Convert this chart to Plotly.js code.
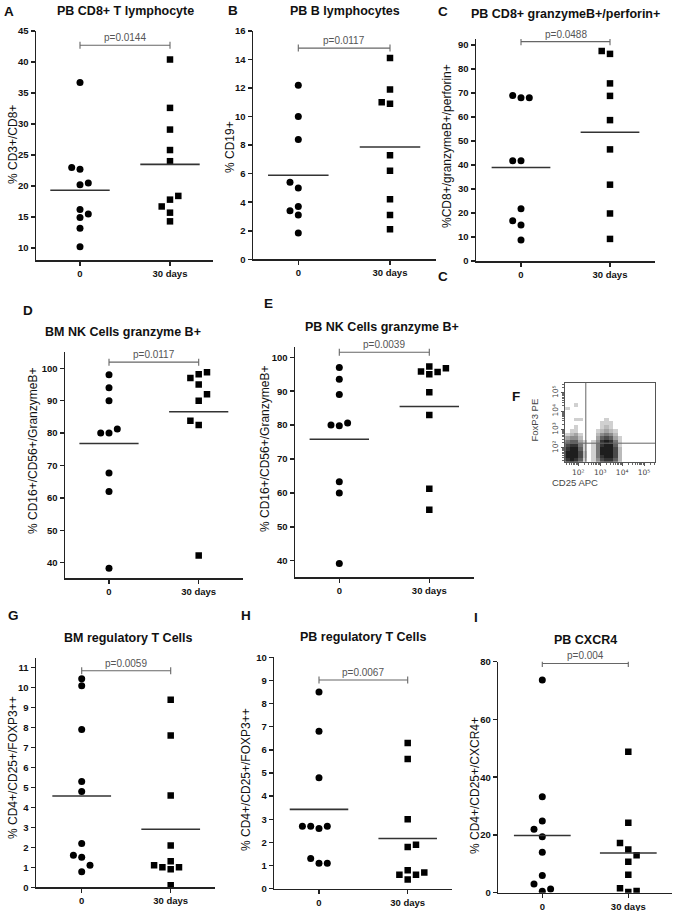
<!DOCTYPE html>
<html><head><meta charset="utf-8">
<script src="https://cdn.plot.ly/plotly-3.0.1.min.js"></script>
<style>html,body{margin:0;padding:0;background:#fff}#chart{width:674px;height:911px}</style>
</head><body><div id="chart"></div>
<script>
const groupLabels = ['0', '30 days'];

// A: PB CD8+ T lymphocyte
const aDay0  = [36.7, 23.0, 22.7, 20.2, 20.5, 16.2, 15.5, 14.9, 13.2, 10.2];
const aDay30 = [40.4, 32.6, 29.1, 25.8, 24.0, 18.4, 17.8, 16.7, 15.7, 14.3];
// B: PB B lymphocytes
const bDay0  = [12.2, 10.0, 8.4, 5.4, 5.0, 3.7, 3.4, 3.1, 1.85];
const bDay30 = [14.1, 11.9, 11.0, 10.9, 7.3, 6.2, 4.2, 3.1, 2.1];
// C: PB CD8+ granzymeB+/perforin+
const cDay0  = [69.0, 68.0, 68.0, 41.8, 41.8, 21.8, 16.8, 15.0, 8.7];
const cDay30 = [87.5, 86.3, 74.0, 68.8, 58.7, 46.5, 31.8, 19.8, 9.2];
// D: BM NK Cells granzyme B+
const dDay0  = [98.0, 94.0, 90.0, 80.0, 80.0, 81.3, 67.7, 62.0, 38.3];
const dDay30 = [98.8, 98.2, 97.0, 95.0, 92.0, 90.0, 83.8, 82.5, 42.2];
// E: PB NK Cells granzyme B+
const eDay0  = [97.0, 93.5, 89.0, 80.0, 79.8, 80.6, 63.3, 60.0, 39.2];
const eDay30 = [95.8, 97.3, 95.0, 95.7, 96.8, 89.7, 83.0, 61.2, 55.0];
// G: BM regulatory T Cells
const gDay0  = [10.45, 10.1, 7.9, 5.3, 4.8, 2.2, 1.6, 1.5, 1.1, 0.78];
const gDay30 = [9.4, 7.6, 4.6, 2.1, 1.3, 1.1, 1.0, 0.9, 1.0, 0.1];
// H: PB regulatory T Cells
const hDay0  = [8.5, 6.8, 4.8, 2.7, 2.7, 2.6, 2.7, 1.3, 1.1, 1.1];
const hDay30 = [6.3, 5.6, 3.0, 1.8, 1.9, 0.8, 0.6, 0.6, 0.7, 0.4];
// I: PB CXCR4
const iDay0  = [73.7, 33.2, 24.8, 22.0, 19.4, 14.0, 6.0, 3.0, 0.5, 1.3];
const iDay30 = [48.8, 24.2, 17.2, 15.0, 13.0, 10.7, 6.2, 1.5, 0.2, 0.6];

const pValues = ['p=0.0144', 'p=0.0117', 'p=0.0488', 'p=0.0117', 'p=0.0039', 'p=0.0059', 'p=0.0067', 'p=0.004'];

// F: flow cytometry density (log10 units), rows bottom->top
const fBinX = [1.5, 1.7, 1.9, 2.1, 2.3, 2.5, 2.7, 2.9, 3.1, 3.3, 3.5, 3.7, 3.9, 4.1];
const fBinY = [1.35, 1.55, 1.75, 1.95, 2.15, 2.35, 2.55, 2.75, 2.95, 3.15, 3.35, 3.55, 3.75, 3.95, 4.15, 4.35];
const fDensity = [
  [8,9,8,6,1,0,1,4,7,8,8,6,2,0],
  [9,9,9,7,2,0,1,5,8,9,9,7,2,0],
  [9,9,9,7,2,0,1,5,9,9,9,7,2,0],
  [8,9,9,6,1,0,1,5,9,9,9,7,2,0],
  [7,8,8,5,1,0,1,5,8,9,9,6,1,0],
  [5,6,6,3,1,0,1,4,8,9,8,5,1,0],
  [3,4,4,2,0,0,0,3,6,7,6,3,1,0],
  [1,2,3,1,0,0,0,2,4,5,4,2,0,0],
  [0,1,1,0,0,0,0,1,2,3,2,1,0,0],
  [0,0,1,0,0,0,0,0,1,2,1,0,0,0],
  [0,0,0,0,0,0,0,0,1,1,1,0,0,0],
  [0,0,1,1,0,0,0,0,0,1,0,0,0,0],
  [0,0,0,0,0,0,0,0,0,0,0,0,0,0],
  [0,0,0,0,0,0,0,0,0,0,0,0,0,0],
  [1,0,0,0,0,0,0,0,0,0,0,0,0,0],
  [0,0,1,0,0,0,0,0,0,0,0,0,0,0]
];
const fGateX = 2.34, fGateY = 2.26;
const fTickText = ['10²', '10³', '10⁴', '10⁵'];

// horizontal jitter slots (in marker widths) for overlapping points
const aJit0 = [0,-1,0,0,1,0,1,0,0,0],  aJit30 = [0,0,0,0,0,1,0,-1,0,0];
const bJit0 = [0,0,0,-1,0,0,-1,0,0],   bJit30 = [0,0,-1,0,0,0,0,0,0];
const cJit0 = [-1,0,1,-1,0,0,-1,0,0],  cJit30 = [-1,0,0,0,0,0,0,0,0];
const dJit0 = [0,0,0,-1,0,1,0,0,0],    dJit30 = [1,0,-1,0,1,0,-1,0,0];
const eJit0 = [0,0,0,-1,0,1,0,0,0],    eJit30 = [-1,0,0,1,2,0,0,0,0];
const gJit0 = [0,0,0,0,0,0,-1,0,1,0],  gJit30 = [0,0,0,0,0,-2,-1,0,1,0];
const hJit0 = [0,0,0,-2,-1,0,1,-1,0,1], hJit30 = [0,0,0,0,1,0,-1,1,2,0];
const iJit0 = [0,0,0,-1,0,0,0,-1,0,1], iJit30 = [0,0,-1,0,1,0,0,-1,0,1];

const W = 674, H = 911;
const FONT = 'Liberation Sans, Arial, sans-serif';
const px = v => v / W, py = v => 1 - v / H;

const panels = [
  {d0:aDay0,d30:aDay30,j0:aJit0,j30:aJit30,p:pValues[0],title:'PB CD8+ T lymphocyte',ytitle:'% CD3+/CD8+',
   ax:36,c0:80,c1:170,xe:213, vH:45,pH:31,vL:10,pL:248,top:31,bot:260,dt:5, br:42.7, tx:125,ty:11, yx:13,yy:145},
  {d0:bDay0,d30:bDay30,j0:bJit0,j30:bJit30,p:pValues[1],title:'PB B lymphocytes',ytitle:'% CD19+',
   ax:253,c0:298.3,c1:390,xe:436, vH:16,pH:31,vL:0,pL:259.3,top:31,bot:259.3,dt:2, br:14.8, tx:345,ty:11, yx:230,yy:147},
  {d0:cDay0,d30:cDay30,j0:cJit0,j30:cJit30,p:pValues[2],title:'PB CD8+ granzymeB+/perforin+',ytitle:'%CD8+/granzymeB+/perforin+',
   ax:476,c0:521,c1:610,xe:655, vH:90,pH:45,vL:0,pL:261,top:39,bot:261,dt:10, br:91.4, tx:565,ty:14, yx:447,yy:146},
  {d0:dDay0,d30:dDay30,j0:dJit0,j30:dJit30,p:pValues[3],title:'BM NK Cells granzyme B+',ytitle:'% CD16+/CD56+/GranzymeB+',
   ax:65,c0:109,c1:198.7,xe:243, vH:100,pH:368.3,vL:40,pL:562.7,top:351.7,bot:578.3,dt:10, br:101.9, tx:123,ty:332, yx:33,yy:451},
  {d0:eDay0,d30:eDay30,j0:eJit0,j30:eJit30,p:pValues[4],title:'PB NK Cells granzyme B+',ytitle:'% CD16+/CD56+/GranzymeB+',
   ax:295,c0:339.3,c1:429.3,xe:474, vH:100,pH:357.3,vL:40,pL:560.7,top:346.7,bot:577.3,dt:10, br:101.5, tx:382,ty:327, yx:265,yy:449},
  {d0:gDay0,d30:gDay30,j0:gJit0,j30:gJit30,p:pValues[5],title:'BM regulatory T Cells',ytitle:'% CD4+/CD25+/FOXP3++',
   ax:36,c0:81.7,c1:170.7,xe:215, vH:11,pH:667.7,vL:0,pL:887.3,top:658.3,bot:887.3,dt:1, br:10.85, tx:128,ty:638, yx:13,yy:768},
  {d0:hDay0,d30:hDay30,j0:hJit0,j30:hJit30,p:pValues[6],title:'PB regulatory T Cells',ytitle:'% CD4+/CD25+/FOXP3++',
   ax:274.3,c0:319,c1:407.7,xe:452, vH:10,pH:657.3,vL:0,pL:888.7,top:657.3,bot:888.7,dt:1, br:9.02, tx:363,ty:637, yx:246,yy:780},
  {d0:iDay0,d30:iDay30,j0:iJit0,j30:iJit30,p:pValues[7],title:'PB CXCR4',ytitle:'% CD4+/CD25+/CXCR4+',
   ax:498.3,c0:542.3,c1:628.3,xe:672, vH:80,pH:661.7,vL:0,pL:892.7,top:661.7,bot:892.7,dt:20, br:79.4, tx:585,ty:640, yx:475,yy:786}
];

const data = [], shapes = [], annotations = [];
const layout = {
  width: W, height: H, margin: {l:0, r:0, t:0, b:0},
  paper_bgcolor: '#fff', plot_bgcolor: 'rgba(0,0,0,0)', showlegend: false,
  font: {family: FONT, color: '#111'}
};
const mean = a => a.reduce((s, v) => s + v, 0) / a.length;

panels.forEach((p, i) => {
  const n = i + 1;
  const xk = n === 1 ? 'x' : 'x' + n, yk = n === 1 ? 'y' : 'y' + n;
  const unit = p.c1 - p.c0;
  const xr = [-(p.c0 - p.ax) / unit, 1 + (p.xe - p.c1) / unit];
  const ppu = (p.pL - p.pH) / (p.vH - p.vL);
  const yr = [p.vL - (p.bot - p.pL) / ppu, p.vH + (p.pH - p.top) / ppu + 1e-6];
  const step = 8.3 / unit;
  layout['xaxis' + (n === 1 ? '' : n)] = {
    domain: [px(p.ax), px(p.xe)], range: xr, anchor: yk, showgrid: false, zeroline: false,
    showline: true, linecolor: '#222', linewidth: 1.5, ticks: 'outside', ticklen: 4, tickwidth: 1.5, tickcolor: '#222',
    tickmode: 'array', tickvals: [0, 1], ticktext: groupLabels,
    tickfont: {family: FONT, size: 9.5, weight: 'bold', color: '#111'}, fixedrange: true
  };
  layout['yaxis' + (n === 1 ? '' : n)] = {
    domain: [py(p.bot), py(p.top)], range: yr, anchor: xk, showgrid: false, zeroline: false,
    showline: true, linecolor: '#222', linewidth: 1.5, ticks: 'outside', ticklen: 4, tickwidth: 1.5, tickcolor: '#222',
    tick0: 0, dtick: p.dt, tickfont: {family: FONT, size: 9.5, weight: 'bold', color: '#111'}, fixedrange: true
  };
  data.push({type: 'scatter', mode: 'markers', xaxis: xk, yaxis: yk, hoverinfo: 'y',
    x: p.j0.map(j => 0 + j * step), y: p.d0, marker: {symbol: 'circle', size: 7, color: '#000'}});
  data.push({type: 'scatter', mode: 'markers', xaxis: xk, yaxis: yk, hoverinfo: 'y',
    x: p.j30.map(j => 1 + j * step), y: p.d30, marker: {symbol: 'square', size: 6.5, color: '#000'}});
  [[0, p.d0], [1, p.d30]].forEach(([c, arr]) => {
    shapes.push({type: 'line', xref: xk, yref: yk, x0: c - 0.33, x1: c + 0.33, y0: mean(arr), y1: mean(arr),
      line: {color: '#333', width: 1.6}});
  });
  shapes.push({type: 'line', xref: xk, yref: yk, x0: 0, x1: 1, y0: p.br, y1: p.br, line: {color: '#666', width: 1.1}});
  [0, 1].forEach(c => shapes.push({type: 'line', xref: xk, yref: yk, ysizemode: 'pixel', yanchor: p.br,
    x0: c, x1: c, y0: -3.5, y1: 3.5, line: {color: '#666', width: 1.1}}));
  annotations.push({xref: xk, yref: yk, x: 0.5, y: p.br, yanchor: 'bottom', yshift: 0, showarrow: false,
    text: p.p, font: {family: FONT, size: 10, color: '#555'}});
  annotations.push({xref: 'paper', yref: 'paper', x: px(p.tx), y: py(p.ty), xanchor: 'center', yanchor: 'middle',
    showarrow: false, text: p.title, font: {family: FONT, size: 12.5, weight: 'bold', color: '#111'}});
  annotations.push({xref: 'paper', yref: 'paper', x: px(p.yx), y: py(p.yy), xanchor: 'center', yanchor: 'middle',
    textangle: -90, showarrow: false, text: p.ytitle, font: {family: FONT, size: 12, color: '#111'}});
});

// Panel F (flow plot)
const fMinor = [];
for (let d = 1; d <= 5; d++) for (let k = 2; k <= 9; k++) fMinor.push(d + Math.log10(k));
const fAxisCommon = {showgrid: false, zeroline: false, showline: true, mirror: true, linecolor: '#555', linewidth: 1,
  ticks: 'outside', ticklen: 3, tickcolor: '#555', tickmode: 'array', tickvals: [2, 3, 4, 5],
  ticktext: fTickText, tickfont: {family: 'DejaVu Sans, sans-serif', size: 7.5, color: '#444'}, fixedrange: true,
  minor: {tickmode: 'array', tickvals: fMinor, ticks: 'outside', ticklen: 2, tickcolor: '#666'}};
layout.xaxis9 = Object.assign({}, fAxisCommon, {domain: [px(565), px(655)], range: [1.39, 5.5], anchor: 'y9'});
layout.yaxis9 = Object.assign({}, fAxisCommon, {domain: [py(461.7), py(382.7)], range: [1.25, 5.56], anchor: 'x9', tickangle: -90});
data.push({type: 'heatmap', xaxis: 'x9', yaxis: 'y9', x: fBinX, y: fBinY, z: fDensity, zmin: 0, zmax: 9,
  zsmooth: false, showscale: false, hoverinfo: 'skip',
  colorscale: [[0, 'rgba(255,255,255,0)'], [0.05, 'rgba(255,255,255,0)'], [0.11, '#d0d0d0'], [1, '#1e1e1e']]});
shapes.push({type: 'line', xref: 'x9', yref: 'y9 domain', x0: fGateX, x1: fGateX, y0: 0, y1: 1, line: {color: '#666', width: 1}});
shapes.push({type: 'line', xref: 'x9 domain', yref: 'y9', x0: 0, x1: 1, y0: fGateY, y1: fGateY, line: {color: '#666', width: 1}});
annotations.push({xref: 'paper', yref: 'paper', x: px(600), y: py(482), showarrow: false, text: 'CD25 APC',
  font: {family: FONT, size: 9.5, color: '#444'}});
annotations.push({xref: 'paper', yref: 'paper', x: px(541), y: py(420), showarrow: false, textangle: -90, text: 'FoxP3 PE',
  font: {family: FONT, size: 9.5, color: '#444'}});

// panel letters
const letters = [['A', 9, 11], ['B', 233, 10], ['C', 443, 12], ['D', 28, 310], ['E', 268, 303], ['F', 516, 396],
  ['G', 13, 615], ['H', 246, 615], ['I', 476, 617], ['C', 443, 276]];
letters.forEach(([t, x, y]) => annotations.push({xref: 'paper', yref: 'paper', x: px(x), y: py(y),
  xanchor: 'center', yanchor: 'middle', showarrow: false, text: t,
  font: {family: FONT, size: 13.5, weight: 'bold', color: '#111'}}));

layout.shapes = shapes;
layout.annotations = annotations;
Plotly.newPlot('chart', data, layout, {staticPlot: true, displayModeBar: false});
</script></body></html>
